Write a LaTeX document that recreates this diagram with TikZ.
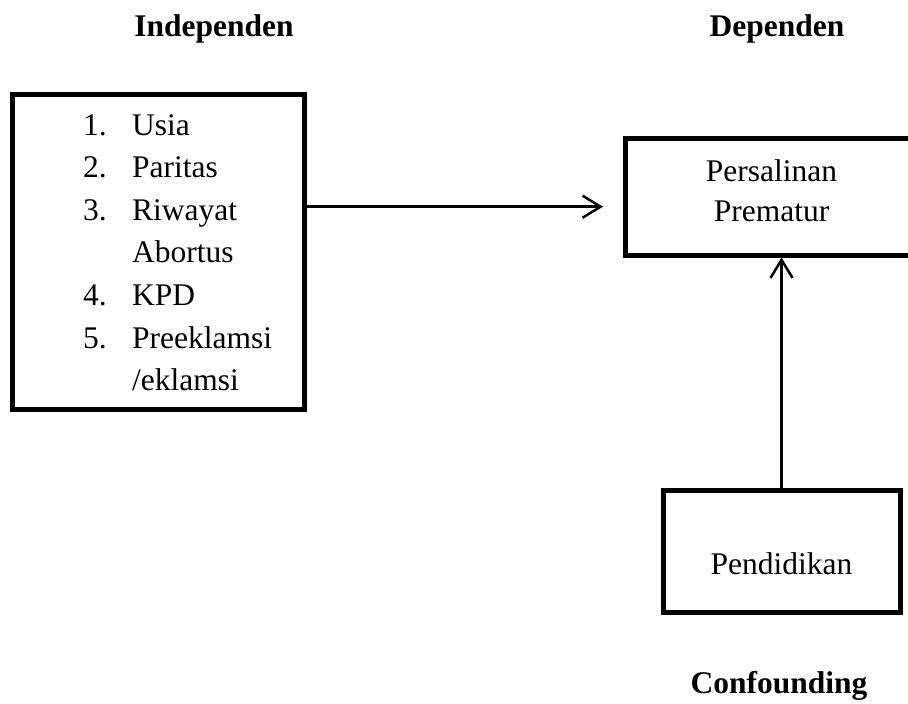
\documentclass[tikz,border=0pt]{standalone}
\usepackage{fontspec}
\setmainfont{Liberation Serif}
\usetikzlibrary{arrows.meta}
\begin{document}
\begin{tikzpicture}[x=1pt,y=-1pt,
  box/.style={draw, line width=5pt, inner sep=0pt},
  txt/.style={font=\fontsize{31.5}{41}\selectfont, inner sep=0pt},
  hdr/.style={font=\fontsize{31.5}{41}\selectfont\bfseries, inner sep=0pt, anchor=base},
  conn/.style={line width=2.5pt, -{Straight Barb[length=18pt,width=22pt]}}]
\useasboundingbox (0,0) rectangle (908,704);
% headers
\node[hdr] (hind) at (214,36) {Independen};
\node[hdr] (hdep) at (777,36) {Dependen};
\node[hdr] (hcon) at (779,693) {Confounding};
% boxes
\node[box, minimum width=292pt, minimum height=315.5pt] (indep) at (158.5,251.75) {};
\node[box, minimum width=293pt, minimum height=116.5pt] (pers) at (771.5,196.75) {};
\node[box, minimum width=237pt, minimum height=122.5pt] (pend) at (781.5,551.25) {};
% list
\node[txt, anchor=base west] (n1) at (83,135) {1.};
\node[txt, anchor=base west] (t1) at (132,135) {Usia};
\node[txt, anchor=base west] (n2) at (83,177.6) {2.};
\node[txt, anchor=base west] (t2) at (132,177.6) {Paritas};
\node[txt, anchor=base west] (n3) at (83,220.2) {3.};
\node[txt, anchor=base west] (t3) at (132,220.2) {Riwayat};
\node[txt, anchor=base west] (t3b) at (132,262.8) {Abortus};
\node[txt, anchor=base west] (n4) at (83,305.4) {4.};
\node[txt, anchor=base west] (t4) at (132,305.4) {KPD};
\node[txt, anchor=base west] (n5) at (83,348) {5.};
\node[txt, anchor=base west] (t5) at (132,348) {Preeklamsi};
\node[txt, anchor=base west] (t5b) at (132,390.6) {/eklamsi};
% box texts
\node[txt, anchor=base] (p1) at (771.5,181) {Persalinan};
\node[txt, anchor=base] (p2) at (771.5,221.5) {Prematur};
\node[txt, anchor=base] (pd) at (781.5,574) {Pendidikan};
% connectors
\coordinate (tipA) at (603,206.7);
\draw[conn] (tipA -| indep.east) -- (tipA);
\draw[conn] (pend.north) -- (pend.north |- pers.south);
\end{tikzpicture}
\end{document}
